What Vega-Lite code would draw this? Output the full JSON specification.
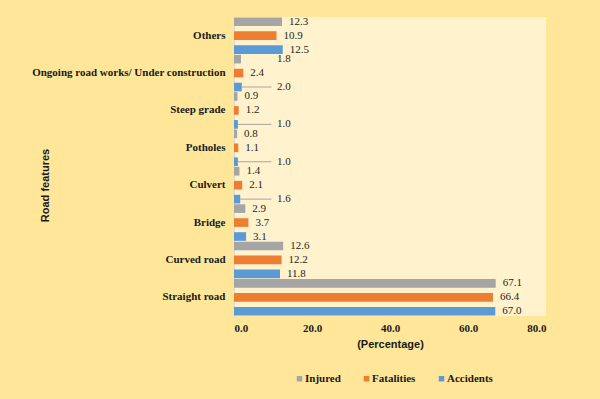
{
  "$schema": "https://vega.github.io/schema/vega-lite/v6.json",
  "autosize": {"type": "none"},
  "width": 312,
  "height": 299,
  "padding": {"left": 234, "top": 17, "right": 54, "bottom": 83},
  "background": "#FFE699",
  "config": {"view": {"fill": "#FFF2CC", "stroke": null}},
  "data": {"values": [
    {"feature": "Others", "series": "Injured", "value": 12.3},
    {"feature": "Others", "series": "Fatalities", "value": 10.9},
    {"feature": "Others", "series": "Accidents", "value": 12.5},
    {"feature": "Ongoing road works/ Under construction", "series": "Injured", "value": 1.8},
    {"feature": "Ongoing road works/ Under construction", "series": "Fatalities", "value": 2.4},
    {"feature": "Ongoing road works/ Under construction", "series": "Accidents", "value": 2.0},
    {"feature": "Steep grade", "series": "Injured", "value": 0.9},
    {"feature": "Steep grade", "series": "Fatalities", "value": 1.2},
    {"feature": "Steep grade", "series": "Accidents", "value": 1.0},
    {"feature": "Potholes", "series": "Injured", "value": 0.8},
    {"feature": "Potholes", "series": "Fatalities", "value": 1.1},
    {"feature": "Potholes", "series": "Accidents", "value": 1.0},
    {"feature": "Culvert", "series": "Injured", "value": 1.4},
    {"feature": "Culvert", "series": "Fatalities", "value": 2.1},
    {"feature": "Culvert", "series": "Accidents", "value": 1.6},
    {"feature": "Bridge", "series": "Injured", "value": 2.9},
    {"feature": "Bridge", "series": "Fatalities", "value": 3.7},
    {"feature": "Bridge", "series": "Accidents", "value": 3.1},
    {"feature": "Curved road", "series": "Injured", "value": 12.6},
    {"feature": "Curved road", "series": "Fatalities", "value": 12.2},
    {"feature": "Curved road", "series": "Accidents", "value": 11.8},
    {"feature": "Straight road", "series": "Injured", "value": 67.1},
    {"feature": "Straight road", "series": "Fatalities", "value": 66.4},
    {"feature": "Straight road", "series": "Accidents", "value": 67.0}
  ]},
  "encoding": {
    "y": {
      "field": "feature", "type": "nominal",
      "sort": ["Others", "Ongoing road works/ Under construction", "Steep grade", "Potholes", "Culvert", "Bridge", "Curved road", "Straight road"],
      "scale": {"paddingInner": 0, "paddingOuter": 0},
      "axis": {
        "labelFont": "Liberation Serif", "labelFontWeight": "bold", "labelFontSize": 11, "labelColor": "#1a1a1a",
        "labelPadding": 9, "labelLimit": 400, "ticks": false, "domain": true, "domainColor": "#D9D9D9",
        "title": "Road features", "titleFont": "Liberation Sans", "titleFontWeight": "bold", "titleFontSize": 11,
        "titleColor": "#1a1a1a", "titleX": -189, "titleY": 168, "titleAlign": "center", "titleBaseline": "middle", "titleAngle": -90
      }
    },
    "yOffset": {
      "field": "series", "type": "nominal",
      "sort": ["Injured", "Fatalities", "Accidents"],
      "scale": {"paddingInner": 0.38, "paddingOuter": 0.03}
    },
    "x": {
      "field": "value", "type": "quantitative",
      "scale": {"domain": [0, 80], "nice": false},
      "axis": {
        "values": [0, 20, 40, 60, 80], "format": ".1f",
        "labelFont": "Liberation Serif", "labelFontWeight": "bold", "labelFontSize": 11, "labelColor": "#1a1a1a",
        "labelPadding": 6, "ticks": false, "domain": false, "grid": false,
        "title": "(Percentage)", "titleFont": "Liberation Sans", "titleFontWeight": "bold", "titleFontSize": 11,
        "titleColor": "#1a1a1a", "titlePadding": 5
      }
    }
  },
  "layer": [
    {
      "mark": {"type": "bar"},
      "encoding": {
        "color": {
          "field": "series", "type": "nominal",
          "scale": {"domain": ["Injured", "Fatalities", "Accidents"], "range": ["#A5A5A5", "#ED7D31", "#5B9BD5"]},
          "legend": {
            "orient": "none", "legendX": 60, "legendY": 356, "direction": "horizontal",
            "title": null, "symbolType": "square", "symbolSize": 30, "symbolStrokeWidth": 0,
            "labelFont": "Liberation Serif", "labelFontWeight": "bold", "labelFontSize": 11, "labelColor": "#1a1a1a",
            "labelOffset": 0, "columnPadding": 20
          }
        }
      }
    },
    {
      "transform": [{"filter": "!((datum.series == 'Accidents' && datum.value <= 2) || (datum.series == 'Injured' && datum.feature == 'Ongoing road works/ Under construction'))"}],
      "mark": {"type": "text", "align": "left", "baseline": "middle", "dx": 7, "font": "Liberation Serif", "fontSize": 11, "color": "#262626"},
      "encoding": {"text": {"field": "value", "type": "quantitative", "format": ".1f"}}
    },
    {
      "transform": [{"filter": "datum.series == 'Accidents' && datum.value <= 2"}],
      "mark": {"type": "rule", "color": "#A6A6A6", "strokeWidth": 1},
      "encoding": {"x2": {"datum": 9.6}}
    },
    {
      "transform": [{"filter": "(datum.series == 'Accidents' && datum.value <= 2) || (datum.series == 'Injured' && datum.feature == 'Ongoing road works/ Under construction')"}],
      "mark": {"type": "text", "align": "left", "baseline": "middle", "font": "Liberation Serif", "fontSize": 11, "color": "#262626"},
      "encoding": {"x": {"datum": 11.0}, "text": {"field": "value", "type": "quantitative", "format": ".1f"}}
    }
  ]
}
